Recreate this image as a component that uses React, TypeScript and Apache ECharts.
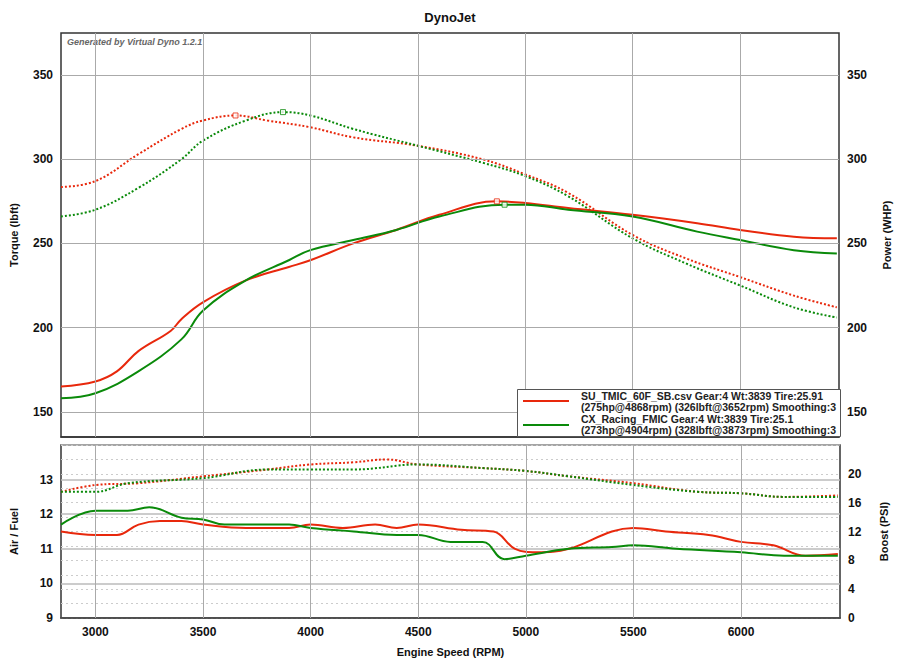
import React, { useEffect, useRef } from "react";
import * as echarts from "echarts";

const RED = "#e8280c";
const GREEN = "#0a8a0a";

// torque (lbft) vs rpm
const suTorque = [[2840,283.5],[3000,287],[3200,303],[3400,318],[3500,323],[3652,326],[3800,323],[4000,319],[4200,313],[4500,308],[4800,300],[5000,291],[5200,280],[5500,255],[5750,241],[6000,230],[6250,219],[6450,212]];
const cxTorque = [[2840,266],[3000,270],[3200,283],[3400,300],[3500,311],[3700,323],[3873,328],[4000,326],[4200,318],[4500,308],[4800,298],[5000,290],[5200,278],[5500,253],[5750,238],[6000,225],[6250,212],[6450,206]];
// power (whp) vs rpm
const suPower = [[2840,165],[3000,168],[3100,174],[3200,186],[3350,198],[3400,205],[3500,215],[3700,228],[3900,236],[4000,240],[4200,250],[4400,258],[4600,267],[4868,275],[5000,274],[5200,271],[5500,267],[5800,262],[6000,258],[6250,254],[6450,253]];
const cxPower = [[2840,158],[3000,161],[3200,174],[3400,193],[3500,210],[3700,228],[3900,240],[4000,246],[4200,252],[4400,258],[4600,266],[4904,273],[5000,273],[5200,270],[5500,266],[5800,257],[6000,252],[6250,246],[6450,244]];
// peak markers
const suPeaks = [[3652,326],[4868,275]];
const cxPeaks = [[3873,328],[4904,273]];
// air / fuel
const suAfr = [[2840,11.5],[3000,11.4],[3100,11.4],[3200,11.7],[3300,11.8],[3400,11.8],[3500,11.7],[3700,11.6],[3900,11.6],[4000,11.7],[4150,11.6],[4300,11.7],[4400,11.6],[4500,11.7],[4700,11.55],[4850,11.5],[4950,11.0],[5050,10.9],[5200,11.0],[5400,11.5],[5500,11.6],[5650,11.5],[5850,11.4],[6000,11.2],[6150,11.1],[6300,10.8],[6450,10.85]];
const cxAfr = [[2840,11.7],[3000,12.1],[3150,12.1],[3250,12.2],[3400,11.9],[3500,11.85],[3600,11.7],[3750,11.7],[3900,11.7],[4000,11.6],[4200,11.5],[4400,11.4],[4500,11.4],[4650,11.2],[4800,11.2],[4900,10.7],[5000,10.8],[5200,11.0],[5400,11.05],[5500,11.1],[5700,11.0],[6000,10.9],[6200,10.8],[6450,10.8]];
// boost (psi)
const suBoost = [[2840,17.5],[3000,18.45],[3200,18.7],[3500,19.65],[3800,20.6],[4000,21.3],[4200,21.6],[4350,22.0],[4500,21.3],[4800,20.8],[5000,20.4],[5200,19.65],[5500,18.7],[5800,17.5],[6000,17.3],[6200,16.8],[6450,17.0]];
const cxBoost = [[2840,17.5],[3000,17.5],[3150,18.7],[3500,19.4],[3800,20.6],[4000,20.6],[4200,20.6],[4500,21.3],[4800,20.8],[5000,20.4],[5200,19.65],[5500,18.45],[5800,17.5],[6000,17.3],[6200,16.8],[6450,16.8]];

const rpmTicks = [3000, 3500, 4000, 4500, 5000, 5500, 6000];
const torqueTicks = [150, 200, 250, 300, 350];

export default function App() {
  const chartRef = useRef<HTMLDivElement>(null);

  useEffect(() => {
    if (!chartRef.current) return;
    const chart = echarts.init(chartRef.current, null, { renderer: "svg" });

    const xCommon = {
      type: "value", min: 2840, max: 6460, interval: 20,
      axisLine: { onZero: false, lineStyle: { color: "#333", width: 1.5 } },
      axisTick: { show: false }, splitLine: { show: false },
    };
    const gridLine = { color: "#aaa", width: 1 };
    const vLines = rpmTicks.map((r) => ({ xAxis: r }));
    const line = (name: string, data: number[][], color: string, dotted: boolean, xi: number, yi: number, mark?: any) => ({
      name, type: "line", data, smooth: 0.4, showSymbol: false, xAxisIndex: xi, yAxisIndex: yi,
      lineStyle: { color, width: 2, type: dotted ? [2, 2] : "solid" }, z: 3, markLine: mark,
    });
    const legendFont = "bold 10.5px Liberation Sans";

    chart.setOption({
      animation: false,
      backgroundColor: "#fff",
      title: { text: "DynoJet", left: "center", top: 6, textStyle: { fontFamily: "Liberation Sans", fontSize: 13, fontWeight: "bold", color: "#111" } },
      grid: [
        { left: 61, right: 60, top: 33, height: 404, show: true, borderColor: "#333", borderWidth: 1.5 },
        { left: 61, right: 60, top: 445, height: 173, show: true, borderColor: "#333", borderWidth: 1.5 },
      ],
      xAxis: [
        { ...xCommon, gridIndex: 0, axisLabel: { show: false } },
        { ...xCommon, gridIndex: 1, name: "Engine Speed (RPM)", nameLocation: "middle", nameGap: 28,
          nameTextStyle: { fontFamily: "Liberation Sans", fontSize: 11, fontWeight: "bold", color: "#111" },
          axisLabel: { fontFamily: "Liberation Sans", fontSize: 12, fontWeight: "bold", color: "#111", formatter: (v: number) => (v % 500 === 0 ? String(v) : "") } },
      ],
      yAxis: [
        { type: "value", gridIndex: 0, min: 135, max: 375, interval: 5, name: "Torque (lbft)", nameLocation: "middle", nameGap: 42,
          nameTextStyle: { fontFamily: "Liberation Sans", fontSize: 11, fontWeight: "bold", color: "#111" },
          axisLine: { show: false }, axisTick: { show: false }, splitLine: { show: false },
          axisLabel: { fontFamily: "Liberation Sans", fontSize: 12, fontWeight: "bold", color: "#111", formatter: (v: number) => (v % 50 === 0 ? String(v) : "") } },
        { type: "value", gridIndex: 0, position: "right", min: 135, max: 375, interval: 5, name: "Power (WHP)", nameLocation: "middle", nameGap: 42,
          nameTextStyle: { fontFamily: "Liberation Sans", fontSize: 11, fontWeight: "bold", color: "#111" },
          axisLine: { show: false }, axisTick: { show: false }, splitLine: { show: false },
          axisLabel: { fontFamily: "Liberation Sans", fontSize: 12, fontWeight: "bold", color: "#111", formatter: (v: number) => (v % 50 === 0 ? String(v) : "") } },
        { type: "value", gridIndex: 1, min: 9, max: 14, interval: 1, name: "Air / Fuel", nameLocation: "middle", nameGap: 42,
          nameTextStyle: { fontFamily: "Liberation Sans", fontSize: 11, fontWeight: "bold", color: "#111" },
          axisLine: { show: false }, axisTick: { show: false },
          splitLine: { lineStyle: { color: "#bbb", width: 1.5 } },
          axisLabel: { fontFamily: "Liberation Sans", fontSize: 12, fontWeight: "bold", color: "#111", formatter: (v: number) => (v < 14 ? String(v) : "") } },
        { type: "value", gridIndex: 1, position: "right", min: 0, max: 24, interval: 2, name: "Boost (PSI)", nameLocation: "middle", nameGap: 38,
          nameTextStyle: { fontFamily: "Liberation Sans", fontSize: 11, fontWeight: "bold", color: "#111" },
          axisLine: { show: false }, axisTick: { show: false },
          splitLine: { lineStyle: { color: "#ccc", type: [2, 3] } },
          axisLabel: { fontFamily: "Liberation Sans", fontSize: 12, fontWeight: "bold", color: "#111", formatter: (v: number) => (v % 4 === 0 && v < 24 ? String(v) : "") } },
      ],
      series: [
        line("SU torque", suTorque, RED, true, 0, 0, {
          silent: true, symbol: "none", label: { show: false }, lineStyle: { ...gridLine, type: "solid" },
          data: [...vLines, ...torqueTicks.map((t) => ({ yAxis: t }))],
        }),
        line("CX torque", cxTorque, GREEN, true, 0, 0),
        line("SU power", suPower, RED, false, 0, 1),
        line("CX power", cxPower, GREEN, false, 0, 1),
        { type: "scatter", data: suPeaks, xAxisIndex: 0, yAxisIndex: 0, symbol: "rect", symbolSize: 5, itemStyle: { color: "#fff", borderColor: RED, borderWidth: 1 }, z: 4 },
        { type: "scatter", data: cxPeaks, xAxisIndex: 0, yAxisIndex: 0, symbol: "rect", symbolSize: 5, itemStyle: { color: "#fff", borderColor: GREEN, borderWidth: 1 }, z: 4 },
        line("SU afr", suAfr, RED, false, 1, 2, {
          silent: true, symbol: "none", label: { show: false }, lineStyle: { ...gridLine, type: "solid" }, data: vLines,
        }),
        line("CX afr", cxAfr, GREEN, false, 1, 2),
        line("SU boost", suBoost, RED, true, 1, 3),
        line("CX boost", cxBoost, GREEN, true, 1, 3),
      ],
      graphic: [
        { type: "text", left: 67, top: 37, style: { text: "Generated by Virtual Dyno 1.2.1", font: "italic bold 9px Liberation Sans", fill: "#666" } },
        { type: "rect", left: 517, top: 389, z: 100, shape: { width: 323, height: 47 }, style: { fill: "#fff", stroke: "#555", lineWidth: 1 } },
        { type: "line", z: 101, shape: { x1: 523, y1: 401, x2: 569, y2: 401 }, style: { stroke: RED, lineWidth: 2 } },
        { type: "line", z: 101, shape: { x1: 523, y1: 425, x2: 569, y2: 425 }, style: { stroke: GREEN, lineWidth: 2 } },
        { type: "text", z: 101, left: 581, top: 390, style: { text: "SU_TMIC_60F_SB.csv Gear:4 Wt:3839 Tire:25.91\n(275hp@4868rpm) (326lbft@3652rpm) Smoothing:3\nCX_Racing_FMIC Gear:4 Wt:3839 Tire:25.1\n(273hp@4904rpm) (328lbft@3873rpm) Smoothing:3", font: legendFont, fill: "#222", lineHeight: 11.5 } },
      ],
    });

    return () => chart.dispose();
  }, []);

  return <div ref={chartRef} style={{ width: 900, height: 667, position: "absolute", left: 0, top: 0 }} />;
}
